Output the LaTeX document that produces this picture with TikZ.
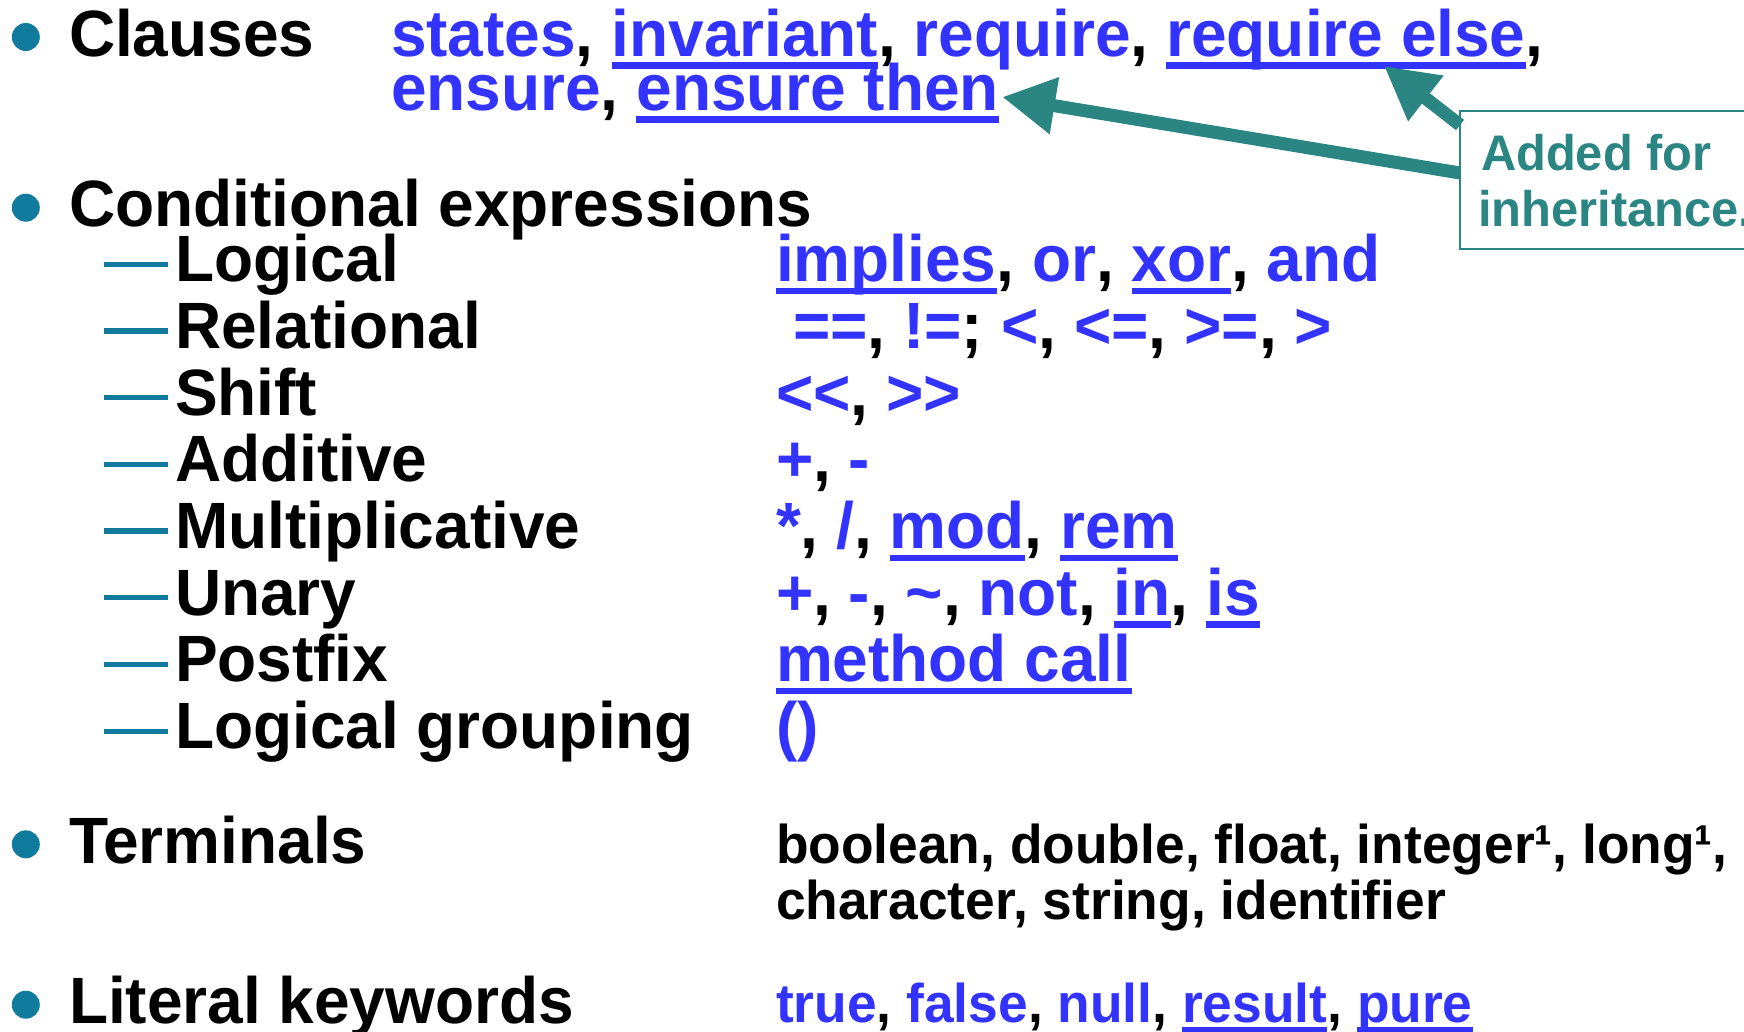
\documentclass[tikz,border=0pt]{standalone}
\usepackage{fontspec}
\setmainfont{Liberation Sans}[FakeStretch=0.977, Ligatures=TeXOff]
\usetikzlibrary{arrows.meta}

\definecolor{kwblue}{RGB}{51,51,255}
\definecolor{markteal}{RGB}{16,123,156}
\definecolor{noteteal}{RGB}{42,133,131}

% keywords: blue, optionally underlined
\newsavebox\kwbox
\newlength\kwuldepth \setlength\kwuldepth{12.5pt}
\newlength\kwulthick \setlength\kwulthick{6.3pt}
\newcommand\kw[1]{\textcolor{kwblue}{#1}}
\newcommand\kwu[1]{\sbox\kwbox{\color{kwblue}#1}%
  \rlap{\color{kwblue}\rule[-\kwuldepth]{\wd\kwbox}{\kwulthick}}\usebox\kwbox}

\tikzset{
  txt/.style={inner sep=0pt, outer sep=0pt, anchor=base west},
  big/.style={txt, font=\fontsize{65.5}{65.5}\selectfont\bfseries},
  small/.style={txt, font={\fontsize{54.6}{54.6}\selectfont\bfseries
      \setlength\kwuldepth{10pt}\setlength\kwulthick{5.5pt}}},
  notetext/.style={txt, text=noteteal, font=\fontsize{50}{50}\selectfont\bfseries},
  dot/.style={fill=markteal},
  subdash/.style={draw=markteal, line width=5.3pt},
  notebox/.style={draw=noteteal, line width=2pt, minimum width=340pt,
      minimum height=138pt, inner sep=0pt, outer sep=0pt},
  callout/.style={draw=noteteal, line width=13pt,
      -{Triangle[length=53pt,width=54pt]}},
}

\begin{document}
\begin{tikzpicture}[x=1pt, y=-1pt]
\useasboundingbox (0,0) rectangle (1744,1031);

% ---- top-level items ----
\foreach \b in {56, 226.7, 863.3, 1023.7}
  \fill[dot] (25.8,\b-19) circle (14);

\node[big] (clauses) at (69,56) {Clauses};
\node[big] (clauseA) at (391,56)
  {\kw{states}, \kwu{invariant}, \kw{require}, \kwu{require else},};
\node[big] (clauseB) at (391,110)
  {\kw{ensure}, \kwu{ensure then}};

\node[big] (condexpr) at (69,226.7) {Conditional expressions};

% ---- sub-items of conditional expressions ----
\foreach \i in {0,...,7}
  \draw[subdash] (104,281.7+66.7*\i-17.4) -- (167.7,281.7+66.7*\i-17.4);

\node[big] (logical)  at (175,281.7) {Logical};
\node[big] (relat)    at (175,348.4) {Relational};
\node[big] (shift)    at (175,415.1) {Shift};
\node[big] (additive) at (175,481.8) {Additive};
\node[big] (multip)   at (175,548.5) {Multiplicative};
\node[big] (unary)    at (175,615.2) {Unary};
\node[big] (postfix)  at (175,681.9) {Postfix};
\node[big] (grouping) at (175,748.6) {Logical grouping};

\node[big] (opLogical)  at (776,281.7) {\kwu{implies}, \kw{or}, \kwu{xor}, \kw{and}};
\node[big] (opRelat)    at (793,348.4) {\kw{={}=}, \kw{!={}}; \kw{<}, \kw{<={}}, \kw{>={}}, \kw{>}};
\node[big] (opShift)    at (776,415.1) {\kw{<{}<}, \kw{>{}>}};
\node[big] (opAdd)      at (776,481.8) {\kw{+}, \kw{-}};
\node[big] (opMult)     at (776,548.5) {\kw{*}, \kw{/}, \kwu{mod}, \kwu{rem}};
\node[big] (opUnary)    at (776,615.2) {\kw{+}, \kw{-}, \kw{\textasciitilde}, \kw{not}, \kwu{in}, \kwu{is}};
\node[big] (opPostfix)  at (776,681.9) {\kwu{method call}};
\node[big] (opGroup)    at (776,748.6) {\kw{()}};

% ---- terminals and literals ----
\node[big] (terminals) at (69,863.3) {Terminals};
\node[small] (termA) at (776,863.3) {boolean, double, float, integer¹, long¹,};
\node[small] (termB) at (776,919.3) {character, string, identifier};

\node[big] (literals) at (69,1023.7) {Literal keywords};
\node[small] (litvals) at (776,1022.7)
  {\kw{true}, \kw{false}, \kw{null}, \kwu{result}, \kwu{pure}};

% ---- callout ----
\node[notebox, anchor=north west] (note) at (1460,111) {};
\node[notetext] (noteA) at (1481,170.7) {Added for};
\node[notetext] (noteB) at (1478,226.7) {inheritance.};

\coordinate (elsemark) at (1384,66);
\draw[callout] ([yshift=7pt]note.west) -- ([xshift=3pt,yshift=13pt]clauseB.base east);
\draw[callout] ([yshift=55pt]note.west) -- (elsemark);
\end{tikzpicture}
\end{document}
